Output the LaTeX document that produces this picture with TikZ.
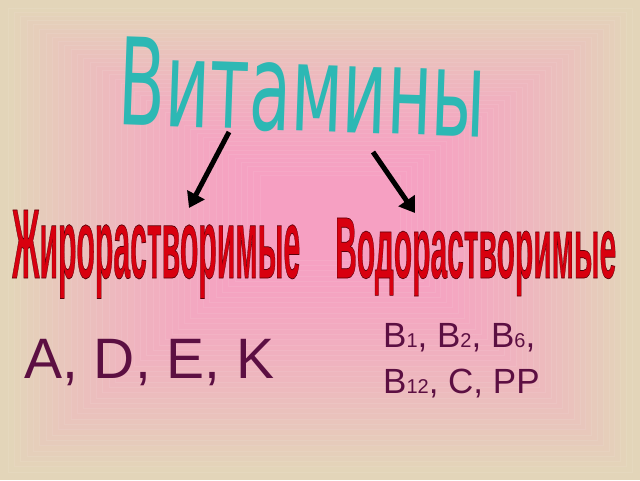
\documentclass[tikz,border=0pt]{standalone}
\usepackage{fontspec}
\setmainfont{Liberation Sans}
\newfontfamily\titlefont{DejaVu Sans}
\usetikzlibrary{arrows.meta, positioning, calc}
\definecolor{bgbeige}{HTML}{E3D5B9}
\definecolor{bgpink}{HTML}{F6A0C2}
\definecolor{titleteal}{HTML}{2DB8B4}
\definecolor{groupred}{HTML}{D8000F}
\definecolor{vitmaroon}{HTML}{5C0F42}
\newcommand{\redword}[1]{\special{pdf:literal 2 Tr 0.35 0 0.03 RG 0.08 w}#1\special{pdf:literal 0 Tr}}
\newcommand{\vsub}[1]{{\fontsize{20}{20}\selectfont #1}}

\begin{document}
\begin{tikzpicture}[
  x=1pt, y=1pt,
  titleword/.style={inner sep=0pt, text=titleteal, font=\titlefont},
  groupword/.style={inner sep=0pt, text=groupred, font=\bfseries},
  vitlist/.style={inner sep=0pt, text=vitmaroon},
  arrow/.style={-{Triangle[length=15pt, width=19pt]}, line width=5pt, draw=black}
]
  % Background
  \useasboundingbox (0,0) rectangle (640,480);
  \fill[bgbeige] (0,0) rectangle (640,480);
  \foreach \i in {0,...,40}{
    \pgfmathtruncatemacro\mixpct{100*(1-(1-\i/40)^1.5)}
    \fill[fill=bgpink!\mixpct!bgbeige, draw=white, draw opacity=0.08, line width=0.6pt]
      (8+6.3*\i, 8+5.3*\i) rectangle (632-5.8*\i, 472-4.175*\i);
  }

  % Title
  \node[titleword, anchor=base, rotate=-2] (title) at (301,349) {\resizebox{367pt}{88pt}{Витамины}};

  % Groups
  \node[groupword, anchor=base west] (fat) at (12,202) {\resizebox{288pt}{68pt}{\redword{Жирорастворимые}}};
  \node[groupword, anchor=base west] (water) at (335,202) {\resizebox{281pt}{60pt}{\redword{Водорастворимые}}};

  % Vitamins
  \node[vitlist, anchor=base west, font=\fontsize{57}{57}\selectfont] (fatlist) at (24,102) {A, D, E, K};
  \node[vitlist, anchor=base west, align=left, font=\fontsize{35}{46}\selectfont] (waterlist) at (383,87)
    {B\vsub{1}, B\vsub{2}, B\vsub{6},\\B\vsub{12}, C, PP};

  % Arrows
  \coordinate (fatTail) at (229,348);
  \coordinate (fatTip) at (189,272);
  \coordinate (waterTail) at (373,328);
  \coordinate (waterTip) at (415,267);
  \draw[arrow] (fatTail) -- (fatTip);
  \draw[arrow] (waterTail) -- (waterTip);
\end{tikzpicture}
\end{document}
